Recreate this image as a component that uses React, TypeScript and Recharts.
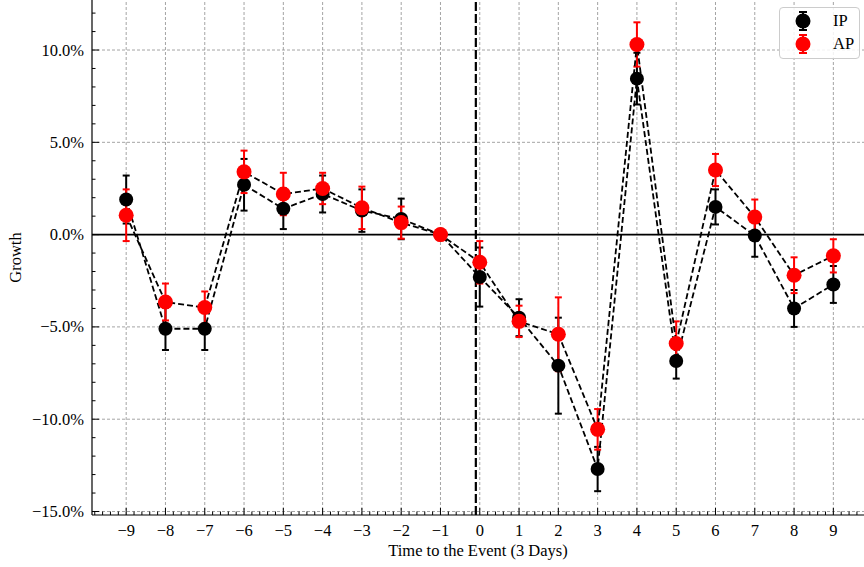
import React from 'react';
import {
  ComposedChart,
  Line,
  XAxis,
  YAxis,
  ErrorBar,
  ReferenceLine,
  Legend,
  Label,
} from 'recharts';

// ---- Data ----
const periods = [-9, -8, -7, -6, -5, -4, -3, -2, -1, 0, 1, 2, 3, 4, 5, 6, 7, 8, 9];
const ipValues = [1.9, -5.1, -5.1, 2.7, 1.4, 2.2, 1.3, 0.85, 0, -2.3, -4.5, -7.1, -12.7, 8.45, -6.85, 1.5, -0.05, -4.0, -2.7];
const ipErrors = [1.3, 1.15, 1.15, 1.4, 1.1, 1.0, 1.15, 1.1, 0, 1.6, 1.0, 2.6, 1.2, 1.4, 0.95, 0.95, 1.15, 1.0, 1.0];
const apValues = [1.05, -3.65, -3.95, 3.4, 2.2, 2.5, 1.45, 0.65, 0, -1.5, -4.7, -5.4, -10.55, 10.3, -5.9, 3.5, 0.95, -2.2, -1.15];
const apErrors = [1.4, 1.0, 0.87, 1.15, 1.15, 0.85, 1.15, 0.87, 0, 1.15, 0.85, 2.0, 1.1, 1.2, 1.2, 0.87, 0.95, 0.97, 0.9];

const xMajorTicks = [-9, -8, -7, -6, -5, -4, -3, -2, -1, 0, 1, 2, 3, 4, 5, 6, 7, 8, 9];
const yMajorTicks = [-15, -10, -5, 0, 5, 10];
const xDomain: [number, number] = [-9.87, 9.78];
const yDomain: [number, number] = [-15.19, 12.71];
const eventX = -0.1;

const seriesNames = ['IP', 'AP'];
const seriesColors = ['#000000', '#ff0000'];

// minor ticks (0.2 on x, 1% on y)
const xAllTicks: number[] = [];
for (let i = -49; i <= 48; i++) xAllTicks.push(Math.round(i * 2) / 10);
const yAllTicks: number[] = [];
for (let i = -15; i <= 12; i++) yAllTicks.push(i);

const data = periods.map((t, i) => ({
  t,
  ip: ipValues[i],
  ipErr: ipErrors[i],
  ap: apValues[i],
  apErr: apErrors[i],
}));

const FONT = '"Liberation Serif", "DejaVu Serif", "Times New Roman", serif';
const FS = 16.5;
const MINUS = '\u2212';

const isMajor = (v: number, step: number) => Math.abs(v / step - Math.round(v / step)) < 1e-6;
const fmtNum = (v: number) => (v < 0 ? MINUS + Math.abs(v) : String(v));
const fmtPct = (v: number) => (v < 0 ? MINUS : '') + Math.abs(v).toFixed(1) + '%';

const XTickBottom = (props: any) => {
  const { x, y, payload } = props;
  const v = payload.value as number;
  const major = isMajor(v, 1);
  return (
    <g>
      <line x1={x} x2={x} y1={y} y2={y - (major ? 7 : 3.5)} stroke="#000" strokeWidth={1} />
      {major && (
        <text x={x} y={y + 21} textAnchor="middle" fontSize={FS} fontFamily={FONT} fill="#000">
          {fmtNum(v)}
        </text>
      )}
    </g>
  );
};

const XTickTop = (props: any) => {
  const { x, y, payload } = props;
  const v = payload.value as number;
  const major = isMajor(v, 1);
  return <line x1={x} x2={x} y1={y} y2={y + (major ? 7 : 3.5)} stroke="#000" strokeWidth={1} />;
};

const YTickLeft = (props: any) => {
  const { x, y, payload } = props;
  const v = payload.value as number;
  const major = isMajor(v, 5);
  return (
    <g>
      <line x1={x} x2={x + (major ? 7 : 3.5)} y1={y} y2={y} stroke="#000" strokeWidth={1} />
      {major && (
        <text x={x - 8} y={y + 5.5} textAnchor="end" fontSize={FS} fontFamily={FONT} fill="#000">
          {fmtPct(v)}
        </text>
      )}
    </g>
  );
};

const LegendGlyph = ({ color }: { color: string }) => (
  <svg width={20} height={22} style={{ display: 'block' }}>
    <line x1={10} x2={10} y1={2} y2={20} stroke={color} strokeWidth={2} />
    <line x1={6} x2={14} y1={2} y2={2} stroke={color} strokeWidth={2} />
    <line x1={6} x2={14} y1={20} y2={20} stroke={color} strokeWidth={2} />
    <circle cx={10} cy={11} r={7.5} fill={color} />
  </svg>
);

const LegendContent = () => (
  <div
    style={{
      position: 'relative',
      width: 81,
      height: 52,
      boxSizing: 'border-box',
      border: '1.5px solid #cccccc',
      borderRadius: 4,
      background: 'rgba(255,255,255,0.85)',
      fontFamily: FONT,
      fontSize: FS,
      color: '#000',
    }}
  >
    {seriesNames.map((name, i) => (
      <div
        key={name}
        style={{ position: 'absolute', left: 13, top: 2 + i * 23, height: 22, display: 'flex', alignItems: 'center' }}
      >
        <LegendGlyph color={seriesColors[i]} />
        <span style={{ marginLeft: 20, lineHeight: '22px' }}>{name}</span>
      </div>
    ))}
  </div>
);

export default function App() {
  return (
    <div style={{ position: 'absolute', left: 0, top: 0, width: 864, height: 567, background: '#fff' }}>
      <ComposedChart width={864} height={567} data={data} margin={{ top: 0, right: 0, bottom: 0, left: 0 }}>
        <XAxis
          xAxisId="top"
          orientation="top"
          dataKey="t"
          type="number"
          domain={xDomain}
          allowDataOverflow
          ticks={xAllTicks}
          interval={0}
          height={0}
          axisLine={false}
          tickLine={false}
          tickSize={0}
          tickMargin={0}
          tick={<XTickTop />}
        />
        <XAxis
          dataKey="t"
          type="number"
          domain={xDomain}
          allowDataOverflow
          ticks={xAllTicks}
          interval={0}
          height={52}
          axisLine={{ stroke: '#000', strokeWidth: 1.2 }}
          tickLine={false}
          tickSize={0}
          tickMargin={0}
          tick={<XTickBottom />}
        >
          <Label
            content={(p: any) => {
              const vb = p.viewBox || {};
              return (
                <text
                  x={(vb.x ?? 92) + (vb.width ?? 772) / 2}
                  y={556}
                  textAnchor="middle"
                  fontSize={FS}
                  fontFamily={FONT}
                  fill="#000"
                >
                  Time to the Event (3 Days)
                </text>
              );
            }}
          />
        </XAxis>
        <YAxis
          type="number"
          domain={yDomain}
          allowDataOverflow
          ticks={yAllTicks}
          interval={0}
          width={92}
          axisLine={{ stroke: '#000', strokeWidth: 1.2 }}
          tickLine={false}
          tickSize={0}
          tickMargin={0}
          tick={<YTickLeft />}
        >
          <Label
            content={(p: any) => {
              const vb = p.viewBox || {};
              const cy = (vb.y ?? 0) + (vb.height ?? 515) / 2;
              return (
                <text
                  x={21}
                  y={cy}
                  transform={`rotate(-90 21 ${cy})`}
                  textAnchor="middle"
                  fontSize={FS}
                  fontFamily={FONT}
                  fill="#000"
                >
                  Growth
                </text>
              );
            }}
          />
        </YAxis>

        {xMajorTicks.map((v) => (
          <ReferenceLine key={'gx' + v} x={v} stroke="#9a9a9a" strokeWidth={0.9} strokeDasharray="3 2" />
        ))}
        {yMajorTicks.map((v) => (
          <ReferenceLine key={'gy' + v} y={v} stroke="#9a9a9a" strokeWidth={0.9} strokeDasharray="3 2" />
        ))}
        <ReferenceLine y={0} stroke="#000" strokeWidth={1.8} />
        <ReferenceLine x={eventX} stroke="#000" strokeWidth={2.2} strokeDasharray="9 3" />

        <Line
          dataKey="ip"
          name={seriesNames[0]}
          stroke="#000"
          strokeWidth={1.8}
          strokeDasharray="6 3"
          dot={{ r: 7, fill: seriesColors[0], stroke: seriesColors[0], strokeWidth: 0 }}
          activeDot={false}
          isAnimationActive={false}
        >
          <ErrorBar dataKey="ipErr" width={3.5} strokeWidth={2} stroke={seriesColors[0]} direction="y" />
        </Line>
        <Line
          dataKey="ap"
          name={seriesNames[1]}
          stroke="#000"
          strokeWidth={1.8}
          strokeDasharray="6 3"
          dot={{ r: 7.5, fill: seriesColors[1], stroke: seriesColors[1], strokeWidth: 0 }}
          activeDot={false}
          isAnimationActive={false}
        >
          <ErrorBar dataKey="apErr" width={3.5} strokeWidth={2} stroke={seriesColors[1]} direction="y" />
        </Line>

        <Legend
          layout="vertical"
          align="center"
          verticalAlign="middle"
          content={<LegendContent />}
          wrapperStyle={{ left: 779, top: 7, width: 81, height: 52 }}
        />
      </ComposedChart>
    </div>
  );
}
